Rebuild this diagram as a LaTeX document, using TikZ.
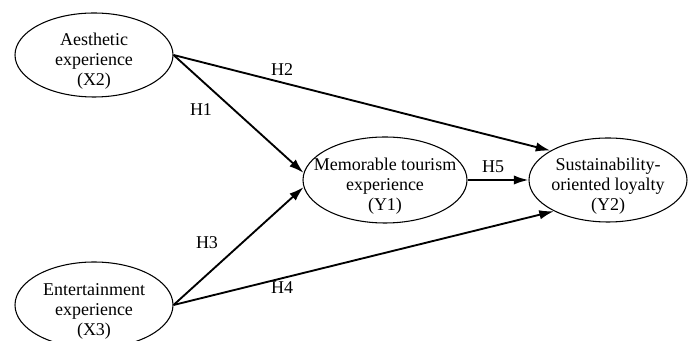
\documentclass[tikz,border=0pt]{standalone}
\usepackage{fontspec}
\setmainfont{Liberation Serif}
\usetikzlibrary{shapes.geometric,arrows.meta}
\begin{document}
\begin{tikzpicture}[x=0.75pt,y=-0.75pt,
        latent/.style={draw, ellipse, line width=0.8pt, minimum width=118.5pt, minimum height=63pt, inner sep=0pt},
        txt/.style={align=center, font=\fontsize{13.5}{15}\selectfont, yshift=-5pt},
        hyp/.style={font=\fontsize{13.5}{15}\selectfont},
        path/.style={line width=1.4pt, -{Latex[length=11pt,width=7pt]}}]
        \useasboundingbox (0,0) rectangle (696,341);
        % constructs
        \node[latent] (x2) at (94,55) {};
        \node[latent, minimum height=64.5pt] (x3) at (94,305) {};
        \node[latent, minimum width=123pt, minimum height=64.5pt] (y1) at (385,180) {};
        \node[latent] (y2) at (608,180) {};
        \node[txt] (x2t) at (x2) {Aesthetic\\experience\\(X2)};
        \node[txt] (x3t) at (x3) {Entertainment\\experience\\(X3)};
        \node[txt] (y1t) at (y1) {Memorable tourism\\experience\\(Y1)};
        \node[txt] (y2t) at (y2) {Sustainability-\\oriented loyalty\\(Y2)};
        % hypotheses
        \draw[path] (x2.east) -- (y1.175);
        \draw[path] (x2.east) -- (y2.153);
        \draw[path] (x3.east) -- (y1.185);
        \draw[path] (x3.east) -- (y2.210);
        \draw[path] (y1.east) -- (y2.west);
        \node[hyp] (h1) at (201,110) {H1};
        \node[hyp] (h2) at (282,70) {H2};
        \node[hyp] (h3) at (207,243) {H3};
        \node[hyp] (h4) at (282,288) {H4};
        \node[hyp] (h5) at (493,167) {H5};
    \end{tikzpicture}
\end{document}
